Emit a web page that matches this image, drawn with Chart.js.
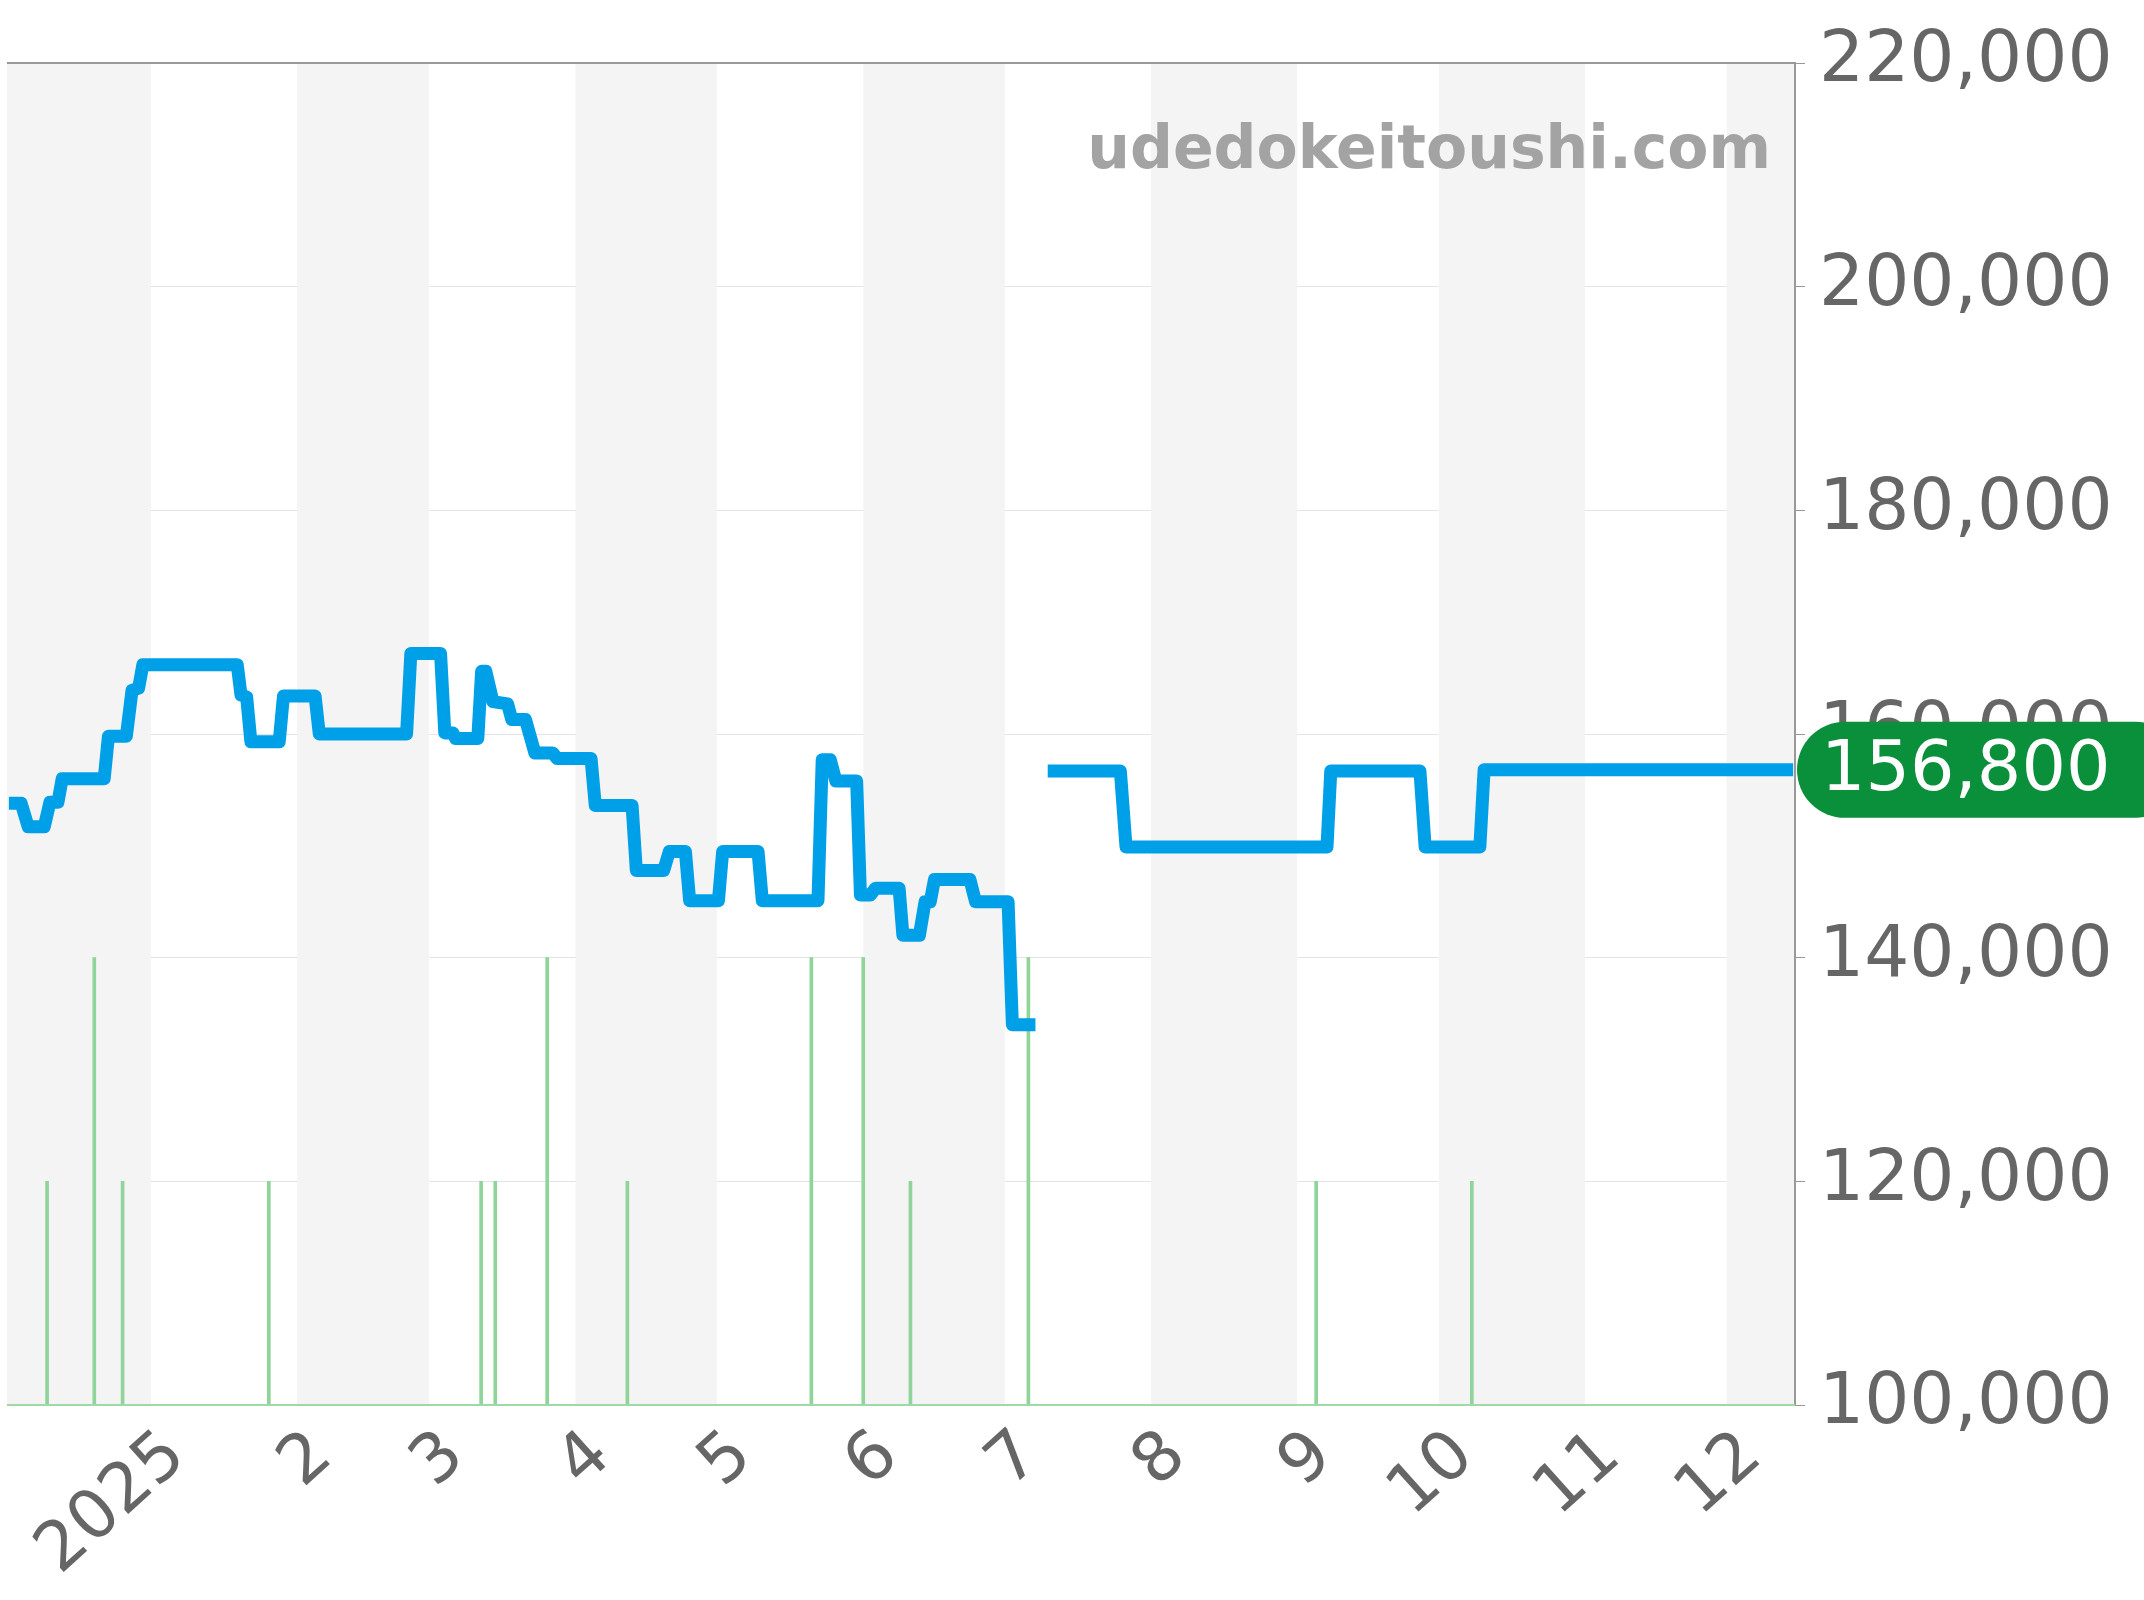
<!DOCTYPE html>
<html>
<head>
<meta charset="utf-8">
<script src="https://cdn.jsdelivr.net/npm/chart.js@4"></script>
<style>
  body { margin: 0; background: #fff; }
  canvas { display: block; }
</style>
</head>
<body>
<canvas id="chart" width="2144" height="1600"></canvas>
<script>
// days counted from 2025-01-01
const priceDays = [-30.1, -27.5, -26, -22.6, -21.4, -19.7, -18.8, -9.9, -9, -5.2, -4, -2.6, -1.7, 18.3, 19.1, 20.3, 21.2, 27.2, 28.1, 34.8, 35.7, 54.2, 55.1, 61.4, 62.3, 64, 64.6, 69.3, 70.1, 71, 72.5, 75.6, 76.5, 79.4, 81.4, 85.2, 86.1, 93.3, 94.2, 102, 102.9, 108.7, 109.9, 113.3, 114.2, 120.3, 121.2, 128.7, 129.6, 141.4, 142.3, 144, 145.2, 149.6, 150.4, 152.5, 153.6, 158.6, 159.4, 162.9, 164.1, 165.2, 166.1, 173.6, 174.8, 181.7, 182.6, 187.5, 188.5, 190.1, 205.5, 206.7, 249.3, 250.1, 269, 270.1, 281.7, 282.6, 348.1];
const priceValues = [153800, 153800, 151700, 151700, 153900, 153900, 156000, 156000, 159800, 159800, 163900, 164100, 166200, 166200, 163500, 163300, 159300, 159300, 163400, 163400, 160000, 160000, 167200, 167200, 160100, 160100, 159600, 159600, 165600, 165600, 162900, 162700, 161300, 161300, 158300, 158300, 157800, 157800, 153600, 153600, 147800, 147800, 149500, 149500, 145100, 145100, 149500, 149500, 145100, 145100, 157700, 157700, 155800, 155800, 145600, 145600, 146200, 146200, 142000, 142000, 145000, 145000, 147000, 147000, 145000, 145000, 134000, 134000, null, 156700, 156700, 149900, 149900, 156700, 156700, 149900, 149900, 156800, 156800];
const volumeDays = [-22, -12, -6, 25, 70, 73, 84, 101, 140, 151, 161, 186, 247, 280];
const volumeValues = [120000, 140000, 120000, 120000, 120000, 120000, 140000, 120000, 140000, 140000, 120000, 140000, 120000, 120000];
const monthDays = [-31, 0, 31, 59, 90, 120, 151, 181, 212, 243, 273, 304, 334, 365];
const monthLabels = ['', '2025', '2', '3', '4', '5', '6', '7', '8', '9', '10', '11', '12', ''];
const yTicks = [100000, 120000, 140000, 160000, 180000, 200000, 220000];
const lastPrice = 156800;

const bandsPlugin = {
  id: 'bands',
  beforeDatasetsDraw(chart) {
    const { ctx, chartArea: a, scales: { x } } = chart;
    ctx.save();
    ctx.fillStyle = '#f4f4f4';
    for (let i = 0; i < monthDays.length - 1; i += 2) {
      const l = Math.max(a.left, x.getPixelForValue(monthDays[i]));
      const r = Math.min(a.right, x.getPixelForValue(monthDays[i + 1]));
      if (r > l) ctx.fillRect(l, a.top, r - l, a.bottom - a.top);
    }
    ctx.restore();
  }
};

const overlayPlugin = {
  id: 'overlay',
  afterDraw(chart) {
    const { ctx, chartArea: a, scales: { y } } = chart;
    ctx.save();
    ctx.strokeStyle = '#999';
    ctx.lineWidth = 2;
    ctx.beginPath();
    ctx.moveTo(a.left, a.top); ctx.lineTo(a.right, a.top); ctx.lineTo(a.right, a.bottom);
    ctx.stroke();
    ctx.strokeStyle = '#9fd9a5';
    ctx.beginPath(); ctx.moveTo(a.left, a.bottom); ctx.lineTo(a.right, a.bottom); ctx.stroke();

    ctx.font = 'bold 60px "DejaVu Sans"';
    ctx.fillStyle = '#a3a3a3';
    ctx.textAlign = 'right';
    ctx.textBaseline = 'middle';
    ctx.fillText('udedokeitoushi.com', a.right - 24, 152);

    const py = y.getPixelForValue(lastPrice);
    const h = 96, l = a.right + 2, r = 2144 + 40;
    ctx.fillStyle = '#0a8f3a';
    ctx.beginPath();
    ctx.roundRect(l, py - h / 2, r - l, h, 48);
    ctx.fill();
    ctx.fillStyle = '#fff';
    ctx.font = '70px "DejaVu Sans"';
    ctx.textAlign = 'left';
    ctx.fillText(lastPrice.toLocaleString('en-US'), a.right + 26, py + 2);
    ctx.restore();
  }
};

new Chart(document.getElementById('chart'), {
  data: {
    datasets: [
      {
        type: 'bar',
        data: volumeDays.map((d, i) => ({ x: d, y: [100000, volumeValues[i]] })),
        backgroundColor: '#8fd49a',
        barThickness: 3,
        order: 2
      },
      {
        type: 'line',
        data: priceDays.map((d, i) => ({ x: d, y: priceValues[i] })),
        borderColor: '#00a0e9',
        borderWidth: 13,
        borderJoinStyle: 'round',
        pointRadius: 0,
        spanGaps: false,
        tension: 0,
        order: 1
      }
    ]
  },
  options: {
    responsive: false,
    devicePixelRatio: 1,
    animation: false,
    layout: { padding: { left: 7, top: 63 } },
    plugins: { legend: { display: false }, tooltip: { enabled: false } },
    scales: {
      x: {
        type: 'linear',
        offset: false,
        min: -30.5,
        max: 348.5,
        afterBuildTicks(s) { s.ticks = monthDays.slice(1, -1).map(v => ({ value: v })); },
        afterFit(s) { s.height = 195; },
        grid: { display: false, drawTicks: true },
        border: { display: false },
        ticks: {
          autoSkip: false,
          minRotation: 42,
          maxRotation: 42,
          labelOffset: 26,
          color: '#666',
          font: { family: 'DejaVu Sans', size: 68 },
          callback: (v) => monthLabels[monthDays.indexOf(v)]
        }
      },
      y: {
        position: 'right',
        min: 100000,
        max: 220000,
        afterBuildTicks(s) { s.ticks = yTicks.map(v => ({ value: v })); },
        afterFit(s) { s.width = 349; },
        grid: { color: '#e4e4e4', lineWidth: 1, tickLength: 10, tickColor: '#999' },
        border: { display: false },
        ticks: {
          color: '#666',
          padding: 14,
          font: { family: 'DejaVu Sans', size: 71 },
          callback: (v) => v.toLocaleString('en-US')
        }
      }
    }
  },
  plugins: [bandsPlugin, overlayPlugin]
});
</script>
</body>
</html>
